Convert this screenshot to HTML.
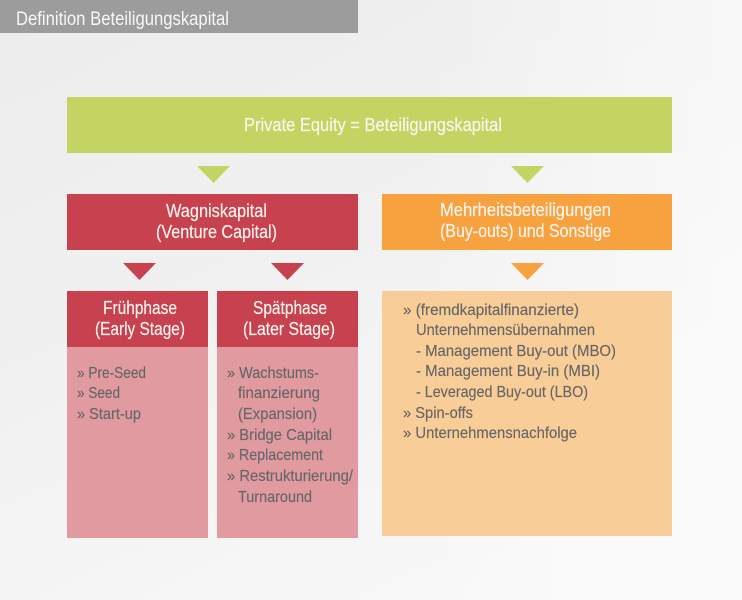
<!DOCTYPE html>
<html>
<head>
<meta charset="utf-8">
<style>
html,body{margin:0;padding:0;}
body{width:742px;height:600px;overflow:hidden;background:#f2f2f2;}
svg{display:block;}
text{font-family:"Liberation Sans",sans-serif;}
.w{fill:#fbf4ee;font-size:18px;stroke:#fbf4ee;stroke-width:0.2;}
.b{fill:#666666;font-size:16px;stroke:#666666;stroke-width:0.15;}
</style>
</head>
<body>
<svg width="742" height="600" viewBox="0 0 742 600" xmlns="http://www.w3.org/2000/svg">
<defs>
<linearGradient id="bg" x1="0" y1="0" x2="0.6" y2="1">
<stop offset="0" stop-color="#ececec"/>
<stop offset="0.5" stop-color="#f1f1f1"/>
<stop offset="1" stop-color="#f8f8f8"/>
</linearGradient>
<linearGradient id="bg2" x1="0" y1="0" x2="1" y2="0">
<stop offset="0" stop-color="#ffffff" stop-opacity="0"/>
<stop offset="0.55" stop-color="#ffffff" stop-opacity="0"/>
<stop offset="1" stop-color="#ffffff" stop-opacity="0.5"/>
</linearGradient>
</defs>
<rect x="0" y="0" width="742" height="600" fill="url(#bg)"/>
<rect x="0" y="0" width="742" height="600" fill="url(#bg2)"/>
<!-- title bar -->
<rect x="0" y="0" width="358" height="33" fill="#9c9c9c"/>
<text x="16" y="25" fill="#f7f7f7" font-size="19" textLength="213" lengthAdjust="spacingAndGlyphs">Definition Beteiligungskapital</text>

<!-- green box -->
<rect x="67" y="97" width="605" height="56" fill="#c3d462"/>
<text class="w" x="244" y="131" textLength="258" lengthAdjust="spacingAndGlyphs">Private Equity = Beteiligungskapital</text>

<!-- green triangles -->
<polygon points="197,166 230,166 213.5,183" fill="#c3d462"/>
<polygon points="511,166 544,166 527.5,183" fill="#c3d462"/>

<!-- red box -->
<rect x="67" y="194" width="291" height="56" fill="#c8414e"/>
<text class="w" x="166" y="217" textLength="101" lengthAdjust="spacingAndGlyphs">Wagniskapital</text>
<text class="w" x="156" y="238" textLength="121" lengthAdjust="spacingAndGlyphs">(Venture Capital)</text>

<!-- orange box -->
<rect x="382" y="194" width="290" height="56" fill="#f7a13f"/>
<text class="w" x="440" y="216" textLength="171" lengthAdjust="spacingAndGlyphs">Mehrheitsbeteiligungen</text>
<text class="w" x="440" y="237" textLength="171" lengthAdjust="spacingAndGlyphs">(Buy-outs) und Sonstige</text>

<!-- red triangles -->
<polygon points="123,263 156,263 139.5,280" fill="#c8414e"/>
<polygon points="271,263 304,263 287.5,280" fill="#c8414e"/>
<!-- orange triangle -->
<polygon points="511,263 544,263 527.5,280" fill="#f7a13f"/>

<!-- Frühphase -->
<rect x="67" y="291" width="141" height="56" fill="#c8414e"/>
<rect x="67" y="347" width="141" height="191" fill="#e09aa0"/>
<text class="w" x="103" y="314" textLength="74" lengthAdjust="spacingAndGlyphs">Frühphase</text>
<text class="w" x="95" y="335" textLength="90" lengthAdjust="spacingAndGlyphs">(Early Stage)</text>
<text class="b" x="77" y="378" textLength="69" lengthAdjust="spacingAndGlyphs">» Pre-Seed</text>
<text class="b" x="77" y="398" textLength="43" lengthAdjust="spacingAndGlyphs">» Seed</text>
<text class="b" x="77" y="419" textLength="64" lengthAdjust="spacingAndGlyphs">» Start-up</text>

<!-- Spätphase -->
<rect x="217" y="291" width="141" height="56" fill="#c8414e"/>
<rect x="217" y="347" width="141" height="191" fill="#e09aa0"/>
<text class="w" x="253" y="314" textLength="74" lengthAdjust="spacingAndGlyphs">Spätphase</text>
<text class="w" x="243" y="335" textLength="92" lengthAdjust="spacingAndGlyphs">(Later Stage)</text>
<text class="b" x="227" y="378" textLength="92" lengthAdjust="spacingAndGlyphs">» Wachstums-</text>
<text class="b" x="238" y="398" textLength="82" lengthAdjust="spacingAndGlyphs">finanzierung</text>
<text class="b" x="238" y="419" textLength="79" lengthAdjust="spacingAndGlyphs">(Expansion)</text>
<text class="b" x="227" y="440" textLength="105" lengthAdjust="spacingAndGlyphs">» Bridge Capital</text>
<text class="b" x="227" y="460" textLength="96" lengthAdjust="spacingAndGlyphs">» Replacement</text>
<text class="b" x="227" y="481" textLength="126" lengthAdjust="spacingAndGlyphs">» Restrukturierung/</text>
<text class="b" x="238" y="502" textLength="74" lengthAdjust="spacingAndGlyphs">Turnaround</text>

<!-- orange body -->
<rect x="382" y="291" width="290" height="245" fill="#f8cd98"/>
<text class="b" x="403" y="315" textLength="176" lengthAdjust="spacingAndGlyphs">» (fremdkapitalfinanzierte)</text>
<text class="b" x="416" y="335" textLength="179" lengthAdjust="spacingAndGlyphs">Unternehmensübernahmen</text>
<text class="b" x="416" y="356" textLength="200" lengthAdjust="spacingAndGlyphs">- Management Buy-out (MBO)</text>
<text class="b" x="416" y="376" textLength="184" lengthAdjust="spacingAndGlyphs">- Management Buy-in (MBI)</text>
<text class="b" x="416" y="397" textLength="172" lengthAdjust="spacingAndGlyphs">- Leveraged Buy-out (LBO)</text>
<text class="b" x="403" y="418" textLength="70" lengthAdjust="spacingAndGlyphs">» Spin-offs</text>
<text class="b" x="403" y="438" textLength="174" lengthAdjust="spacingAndGlyphs">» Unternehmensnachfolge</text>
</svg>
</body>
</html>
